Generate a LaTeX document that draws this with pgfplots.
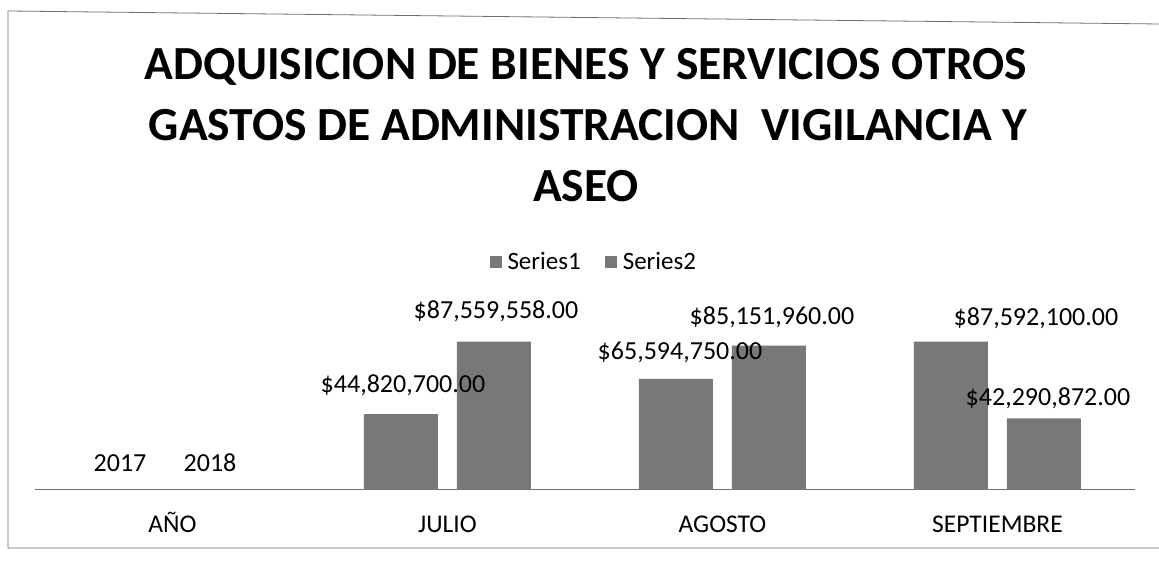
\documentclass[border=0pt]{standalone}
\usepackage{pgfplots}
\pgfplotsset{compat=1.18}
\usepackage{pgfplotstable}
\usepackage{fontspec}
\setmainfont{Carlito}
\definecolor{bargray}{RGB}{120,120,120}
\definecolor{linegray}{RGB}{110,110,110}

\pgfplotstableread{
x y dx dy lab
0 2017 -6 27 {2017}
1 44820700 2 29 {\$44,820,700.00}
2 65594750 4 26 {\$65,594,750.00}
3 87592100 85 23 {\$87,592,100.00}
}\seriesone
\pgfplotstableread{
x y dx dy lab
0 2018 -9 27 {2018}
1 87559558 2 30 {\$87,559,558.00}
2 85151960 3 28 {\$85,151,960.00}
3 42290872 4 20 {\$42,290,872.00}
}\seriestwo

\begin{document}
\begin{tikzpicture}
\useasboundingbox (0,0) rectangle (1159pt,561pt);
% frame
\draw[linegray, line width=0.8pt] (1159pt,537pt) -- (8pt,550pt) -- (8pt,13pt) -- (1159pt,13pt);
% title
\node[anchor=base, font=\fontsize{47.5}{58}\selectfont\bfseries] at (586pt,481pt) {ADQUISICION DE BIENES Y SERVICIOS OTROS};
\node[anchor=base, font=\fontsize{47.5}{58}\selectfont\bfseries] at (588pt,420pt) {GASTOS DE ADMINISTRACION\ \ VIGILANCIA Y};
\node[anchor=base, font=\fontsize{47.5}{58}\selectfont\bfseries] at (586pt,359pt) {ASEO};
\begin{axis}[
  at={(35pt,71pt)}, anchor=south west,
  width=1100pt, height=200pt, scale only axis,
  xmin=-0.5, xmax=3.5, ymin=0, ymax=118e6,
  ybar=19pt, bar width=74pt,
  axis x line*=bottom, axis y line=none,
  x axis line style={linegray, line width=1pt},
  xtick={0,1,2,3},
  xticklabels={AÑO, JULIO, AGOSTO, SEPTIEMBRE},
  xtick style={draw=none},
  ytick=\empty,
  xticklabel style={font=\fontsize{25.5}{30}\selectfont, text height=19pt, text depth=5pt, yshift=-16pt},
  clip=false,
  nodes near coords,
  point meta=explicit symbolic,
  visualization depends on={\thisrow{dx} \as \dx},
  visualization depends on={\thisrow{dy} \as \dy},
  every node near coord/.append style={anchor=center, xshift={\dx pt}, yshift={\dy pt}, font=\fontsize{26}{31}\selectfont, text=black},
  legend columns=2,
  legend style={at={(0.508,1.14)}, anchor=center, draw=none, fill=none,
    font=\fontsize{25}{30}\selectfont,
    /tikz/every odd column/.append style={column sep=4pt},
    /tikz/every even column/.append style={column sep=22pt}},
  legend image code/.code={\fill[bargray] (0pt,-6pt) rectangle (12pt,6pt);},
]
\addplot[fill=bargray, draw=none] table[x=x, y=y, meta=lab] {\seriesone};
\addplot[fill=bargray, draw=none] table[x=x, y=y, meta=lab] {\seriestwo};
\legend{Series1, Series2}
\end{axis}
\end{tikzpicture}
\end{document}
